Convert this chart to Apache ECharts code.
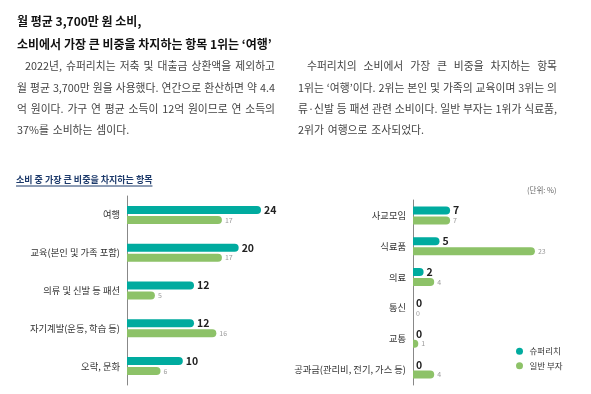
<!DOCTYPE html>
<html><head><meta charset="utf-8">
<script src="https://cdn.jsdelivr.net/npm/echarts@6/dist/echarts.min.js"></script>
<style>html,body{margin:0;padding:0;background:#fff}#c{width:591px;height:394px}</style>
</head><body><div id="c"></div>
<script>
const titleLines = ['월 평균 3,700만 원 소비,', '소비에서 가장 큰 비중을 차지하는 항목 1위는 ‘여행’'];
const leftParagraph = [
  '2022년, 슈퍼리치는 저축 및 대출금 상환액을 제외하고',
  '월 평균 3,700만 원을 사용했다. 연간으로 환산하면 약 4.4',
  '억 원이다. 가구 연 평균 소득이 12억 원이므로 연 소득의',
  '37%를 소비하는 셈이다.'
];
const rightParagraph = [
  '수퍼리치의 소비에서 가장 큰 비중을 차지하는 항목',
  '1위는 ‘여행’이다. 2위는 본인 및 가족의 교육이며 3위는 의',
  '류·신발 등 패션 관련 소비이다. 일반 부자는 1위가 식료품,',
  '2위가 여행으로 조사되었다.'
];
const chartTitle = '소비 중 가장 큰 비중을 차지하는 항목';
const unitLabel = '(단위: %)';
const seriesNames = ['슈퍼리치', '일반 부자'];
const leftCategories = ['여행', '교육(본인 및 가족 포함)', '의류 및 신발 등 패션', '자기계발(운동, 학습 등)', '오락, 문화'];
const leftSuperRich = [24, 20, 12, 12, 10];
const leftGeneral = [17, 17, 5, 16, 6];
const rightCategories = ['사교모임', '식료품', '의료', '통신', '교통', '공과금(관리비, 전기, 가스 등)'];
const rightSuperRich = [7, 5, 2, 0, 0, 0];
const rightGeneral = [7, 23, 4, 0, 1, 4];

const TEAL = '#00ab9f', GREEN = '#8dc268';
const FF = '"Noto Sans CJK KR", sans-serif';

const cv = document.createElement('canvas').getContext('2d');
function justify(lines, x0, x1, yStart, lh, indent, fontSize, color) {
  const els = [];
  const font = fontSize + 'px ' + FF;
  cv.font = font;
  lines.forEach((line, i) => {
    const y = yStart + i * lh;
    const startX = x0 + (i === 0 ? indent : 0);
    const words = line.split(' ');
    const widths = words.map(w => cv.measureText(w).width);
    const total = widths.reduce((a, b) => a + b, 0);
    const last = i === lines.length - 1;
    const gap = last ? cv.measureText(' ').width * 1.6 : (x1 - startX - total) / (words.length - 1);
    let x = startX;
    words.forEach((w, k) => {
      els.push({type: 'text', x: x, y: y, silent: true,
        style: {text: w, font: font, fill: color, textVerticalAlign: 'middle', verticalAlign: 'middle'}});
      x += widths[k] + gap;
    });
  });
  return els;
}

const graphics = [];
titleLines.forEach((t, i) => graphics.push({type: 'text', x: 17, y: 21 + i * 23, silent: true,
  style: {text: t, font: 'bold 12px ' + FF, fill: '#111', textVerticalAlign: 'middle', verticalAlign: 'middle'}}));
graphics.push(...justify(leftParagraph, 17, 275, 66, 21.4, 8, 10.8, '#444'));
graphics.push(...justify(rightParagraph, 298, 557, 66, 21.4, 9, 10.8, '#444'));
graphics.push({type: 'text', x: 16, y: 180, silent: true,
  style: {text: chartTitle, font: 'bold 9px ' + FF, fill: '#1d3a6b', textVerticalAlign: 'middle', verticalAlign: 'middle'}});
cv.font = 'bold 9px ' + FF;
const ctw = cv.measureText(chartTitle).width;
graphics.push({type: 'line', silent: true, shape: {x1: 16, y1: 186, x2: 16 + ctw, y2: 186}, style: {stroke: '#1d3a6b', lineWidth: 1}});
graphics.push({type: 'text', x: 527, y: 190, silent: true,
  style: {text: unitLabel, font: '7.5px ' + FF, fill: '#666', textVerticalAlign: 'middle', verticalAlign: 'middle'}});

function bar(name, data, xi, isMain) {
  return {
    name: name, type: 'bar', xAxisIndex: xi, yAxisIndex: xi, data: data,
    barWidth: 8, barGap: '25%',
    itemStyle: {color: isMain ? TEAL : GREEN, borderRadius: [0, 4, 4, 0]},
    label: {show: true, position: 'right', distance: 3,
      fontFamily: FF,
      fontSize: isMain ? 10.5 : 7, fontWeight: isMain ? 'bold' : 'normal',
      color: isMain ? '#222' : '#9a9a9a'},
    animation: false
  };
}

const chart = echarts.init(document.getElementById('c'), null, {renderer: 'canvas'});
chart.setOption({
  animation: false,
  graphic: graphics,
  grid: [
    {left: 127, top: 196, width: 167.5, height: 189},
    {left: 413, top: 200, width: 159, height: 185}
  ],
  xAxis: [
    {gridIndex: 0, type: 'value', min: 0, max: 30, show: false},
    {gridIndex: 1, type: 'value', min: 0, max: 30, show: false}
  ],
  yAxis: [0, 1].map(i => ({
    gridIndex: i, type: 'category', inverse: true,
    data: i === 0 ? leftCategories : rightCategories,
    axisLine: {show: true, lineStyle: {color: '#888', width: 1}},
    axisTick: {show: false},
    axisLabel: {margin: 7, fontFamily: FF, fontSize: 9.3, color: '#333'}
  })),
  legend: {
    data: seriesNames, orient: 'vertical', left: 511, top: 342,
    icon: 'circle', itemWidth: 10, itemHeight: 7, itemGap: 6,
    textStyle: {fontFamily: FF, fontSize: 8.5, color: '#333'}
  },
  series: [
    bar(seriesNames[0], leftSuperRich, 0, true),
    bar(seriesNames[1], leftGeneral, 0, false),
    bar(seriesNames[0], rightSuperRich, 1, true),
    bar(seriesNames[1], rightGeneral, 1, false)
  ]
});
</script></body></html>
